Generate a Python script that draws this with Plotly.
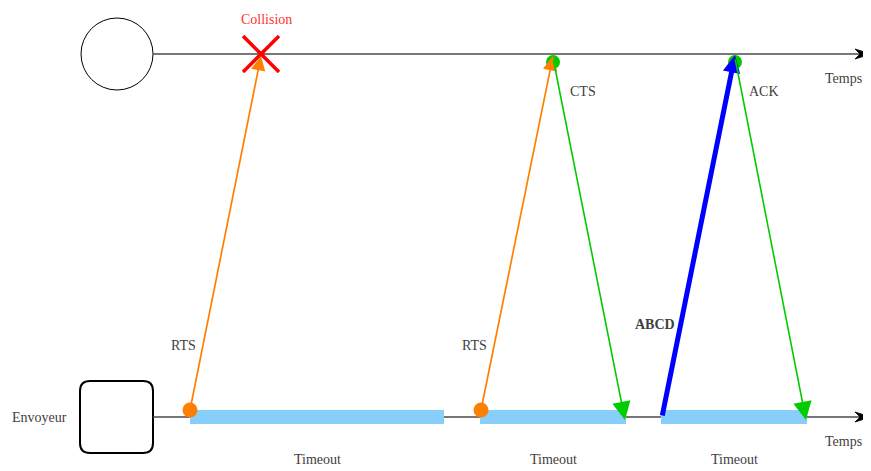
import plotly.graph_objects as go

# ---- data: event times along the time axis ----
rts_send = [190, 481]
rts_arrive = [261, 553]
cts_send = [553]
cts_arrive = [625]
data_send = [662]
data_arrive = [735]
ack_send = [735]
ack_arrive = [806]
timeout_start = [190, 480, 661]
timeout_end = [444, 626, 807]
collision_time = [261]
timeout_labels = ["Timeout", "Timeout", "Timeout"]
message_labels = {"rts": "RTS", "cts": "CTS", "data": "<b>ABCD</b>", "ack": "ACK"}
station_label = "Envoyeur"
time_label = "Temps"
collision_label = "Collision"

# ---- layout constants ----
W, H = 871, 471
PAGE_MARGIN = 8  # default body margin of the html page
RECV_Y = 54
SEND_Y = 417
LINE_START = 153
LINE_END = 871
FONT = "Liberation Serif"
FS = 14
TXT = "#404040"
ORANGE = "#FF8000"
GREEN = "#00CC00"
BLUE = "#0000FF"
BAR = "#87CEFA"

fig = go.Figure()
shapes = []
annotations = []

# receiver (circle) and sender (rounded square)
shapes.append(dict(type="circle", x0=81, x1=153, y0=RECV_Y - 36, y1=RECV_Y + 36,
                   line=dict(color="black", width=1), layer="below"))
r = 10
x0, x1, y0, y1 = 80, 153, SEND_Y - 36, SEND_Y + 36
path = (f"M{x0+r},{y0} L{x1-r},{y0} Q{x1},{y0} {x1},{y0+r} L{x1},{y1-r} Q{x1},{y1} {x1-r},{y1} "
        f"L{x0+r},{y1} Q{x0},{y1} {x0},{y1-r} L{x0},{y0+r} Q{x0},{y0} {x0+r},{y0} Z")
shapes.append(dict(type="path", path=path, line=dict(color="black", width=2), layer="below"))

# time lines with stealth arrow heads
for yl in (RECV_Y, SEND_Y):
    shapes.append(dict(type="line", x0=LINE_START, x1=LINE_END - 10, y0=yl, y1=yl,
                       line=dict(color="#4a4a4a", width=1.3), layer="below"))
    tip = LINE_END
    head = f"M{tip},{yl} L{tip-16},{yl-5} L{tip-11},{yl} L{tip-16},{yl+5} Z"
    shapes.append(dict(type="path", path=head, fillcolor="black",
                       line=dict(color="black", width=0.8), layer="above"))
    annotations.append(dict(x=843, y=yl + 24, text=time_label, showarrow=False,
                            font=dict(family=FONT, size=FS, color=TXT)))

# timeout bars
for s, e, lab in zip(timeout_start, timeout_end, timeout_labels):
    shapes.append(dict(type="rect", x0=s, x1=e, y0=SEND_Y - 7, y1=SEND_Y + 7,
                       fillcolor=BAR, line=dict(width=0), layer="below"))
    annotations.append(dict(x=(s + e) / 2, y=SEND_Y + 42, text=lab, showarrow=False,
                            font=dict(family=FONT, size=FS, color=TXT)))

# collision X
for c in collision_time:
    shapes.append(dict(type="line", x0=c - 18, x1=c + 18, y0=RECV_Y - 18, y1=RECV_Y + 18,
                       line=dict(color="red", width=3.5)))
    shapes.append(dict(type="line", x0=c - 18, x1=c + 18, y0=RECV_Y + 18, y1=RECV_Y - 18,
                       line=dict(color="red", width=3.5)))
    annotations.append(dict(x=c + 5, y=RECV_Y - 35, text=collision_label, showarrow=False,
                            font=dict(family=FONT, size=FS, color="#FF3333")))

# dots
fig.add_trace(go.Scatter(x=rts_send, y=[SEND_Y - 7] * len(rts_send), mode="markers",
                         marker=dict(color=ORANGE, size=15), hoverinfo="skip", showlegend=False))
fig.add_trace(go.Scatter(x=cts_send + ack_send, y=[RECV_Y + 8] * 2, mode="markers",
                         marker=dict(color=GREEN, size=14), hoverinfo="skip", showlegend=False))

def arrow(xs, ys, xe, ye, color, width, size, head=2):
    annotations.append(dict(x=xe, y=ye, ax=xs, ay=ys, xref="x", yref="y", axref="x", ayref="y",
                            text="", showarrow=True, arrowhead=head, arrowsize=size,
                            arrowwidth=width, arrowcolor=color, standoff=0))

# RTS
for s, a in zip(rts_send, rts_arrive):
    arrow(s, SEND_Y - 7, a, RECV_Y + 2, ORANGE, 1.7, 1.7)
    annotations.append(dict(x=s - 7, y=345, text=message_labels["rts"], showarrow=False,
                            font=dict(family=FONT, size=FS, color=TXT)))
# CTS
for s, a in zip(cts_send, cts_arrive):
    arrow(s, RECV_Y + 4, a, SEND_Y + 3, GREEN, 1.6, 2.3)
    annotations.append(dict(x=s + 30, y=91, text=message_labels["cts"], showarrow=False,
                            font=dict(family=FONT, size=FS, color=TXT)))
# DATA
for s, a in zip(data_send, data_arrive):
    arrow(s, SEND_Y, a, RECV_Y + 1, BLUE, 5, 0.7)
    annotations.append(dict(x=s - 7, y=324, text=message_labels["data"], showarrow=False,
                            font=dict(family=FONT, size=FS, color=TXT)))
# ACK
for s, a in zip(ack_send, ack_arrive):
    arrow(s, RECV_Y + 4, a, SEND_Y + 3, GREEN, 1.6, 2.3)
    annotations.append(dict(x=s + 29, y=91, text=message_labels["ack"], showarrow=False,
                            font=dict(family=FONT, size=FS, color=TXT)))

annotations.append(dict(x=39, y=SEND_Y, text=station_label, showarrow=False,
                        font=dict(family=FONT, size=FS, color=TXT)))

fig.update_layout(
    width=W - PAGE_MARGIN, height=H - PAGE_MARGIN, margin=dict(l=0, r=0, t=0, b=0),
    paper_bgcolor="white", plot_bgcolor="white",
    xaxis=dict(range=[PAGE_MARGIN, W], visible=False, fixedrange=True),
    yaxis=dict(range=[H, PAGE_MARGIN], visible=False, fixedrange=True),
    shapes=shapes, annotations=annotations, showlegend=False,
)
fig.write_html("out.html")
